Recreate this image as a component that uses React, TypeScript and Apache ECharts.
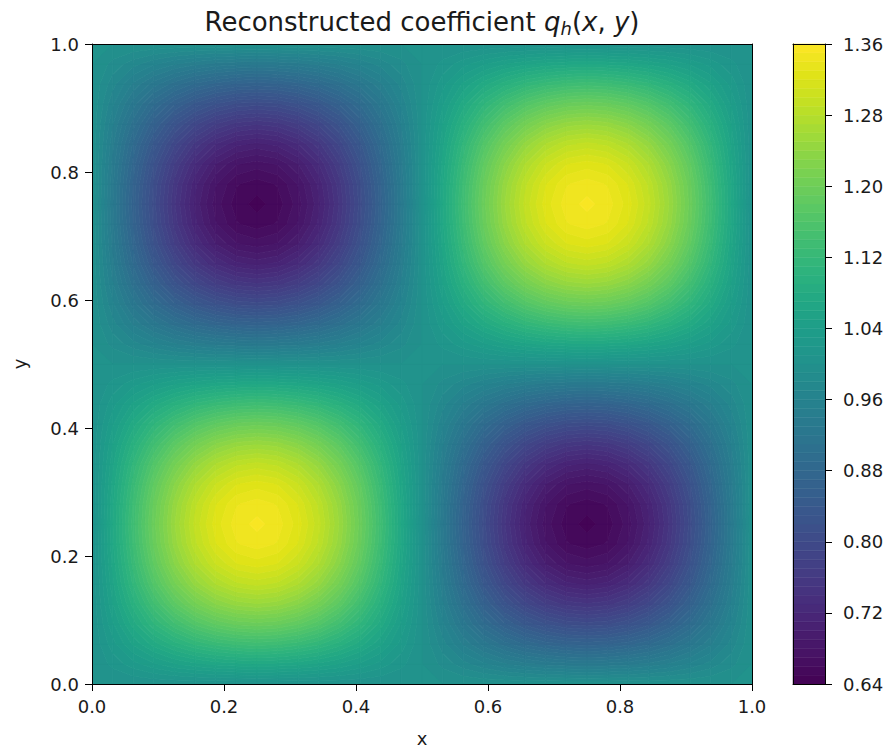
import React, { useEffect, useRef } from "react";
import * as echarts from "echarts";

// Grid nodes (x and y) of the reconstructed field, spacing 1/32
const xNodes = [
  0, 0.03125, 0.0625, 0.09375, 0.125, 0.15625, 0.1875, 0.21875, 0.25, 0.28125, 0.3125, 0.34375, 0.375,
  0.40625, 0.4375, 0.46875, 0.5, 0.53125, 0.5625, 0.59375, 0.625, 0.65625, 0.6875, 0.71875, 0.75,
  0.78125, 0.8125, 0.84375, 0.875, 0.90625, 0.9375, 0.96875, 1,
];
const yNodes = [
  0, 0.03125, 0.0625, 0.09375, 0.125, 0.15625, 0.1875, 0.21875, 0.25, 0.28125, 0.3125, 0.34375, 0.375,
  0.40625, 0.4375, 0.46875, 0.5, 0.53125, 0.5625, 0.59375, 0.625, 0.65625, 0.6875, 0.71875, 0.75,
  0.78125, 0.8125, 0.84375, 0.875, 0.90625, 0.9375, 0.96875, 1,
];

// Rows of q_h values at the nodes (one row per y node, values along x)
const rowOnes = [1, 1, 1, 1, 1, 1, 1, 1, 1, 1, 1, 1, 1, 1, 1, 1, 1, 1, 1, 1, 1, 1, 1, 1, 1, 1, 1, 1, 1, 1, 1, 1, 1];
const rowP1 = [1, 1.013, 1.026, 1.038, 1.049, 1.057, 1.063, 1.067, 1.069, 1.067, 1.063, 1.057, 1.049, 1.038, 1.026, 1.013, 1, 0.987, 0.974, 0.962, 0.951, 0.943, 0.937, 0.933, 0.931, 0.933, 0.937, 0.943, 0.951, 0.962, 0.974, 0.987, 1];
const rowP2 = [1, 1.026, 1.052, 1.075, 1.095, 1.112, 1.124, 1.132, 1.135, 1.132, 1.124, 1.112, 1.095, 1.075, 1.052, 1.026, 1, 0.974, 0.948, 0.925, 0.905, 0.888, 0.876, 0.868, 0.865, 0.868, 0.876, 0.888, 0.905, 0.925, 0.948, 0.974, 1];
const rowP3 = [1, 1.038, 1.075, 1.109, 1.138, 1.163, 1.181, 1.192, 1.196, 1.192, 1.181, 1.163, 1.138, 1.109, 1.075, 1.038, 1, 0.962, 0.925, 0.891, 0.862, 0.837, 0.819, 0.808, 0.804, 0.808, 0.819, 0.837, 0.862, 0.891, 0.925, 0.962, 1];
const rowP4 = [1, 1.049, 1.095, 1.138, 1.176, 1.207, 1.23, 1.244, 1.249, 1.244, 1.23, 1.207, 1.176, 1.138, 1.095, 1.049, 1, 0.951, 0.905, 0.862, 0.824, 0.793, 0.77, 0.756, 0.751, 0.756, 0.77, 0.793, 0.824, 0.862, 0.905, 0.951, 1];
const rowP5 = [1, 1.057, 1.112, 1.163, 1.207, 1.243, 1.27, 1.287, 1.293, 1.287, 1.27, 1.243, 1.207, 1.163, 1.112, 1.057, 1, 0.943, 0.888, 0.837, 0.793, 0.757, 0.73, 0.713, 0.707, 0.713, 0.73, 0.757, 0.793, 0.837, 0.888, 0.943, 1];
const rowP6 = [1, 1.063, 1.124, 1.181, 1.23, 1.27, 1.3, 1.319, 1.325, 1.319, 1.3, 1.27, 1.23, 1.181, 1.124, 1.063, 1, 0.937, 0.876, 0.819, 0.77, 0.73, 0.7, 0.681, 0.675, 0.681, 0.7, 0.73, 0.77, 0.819, 0.876, 0.937, 1];
const rowP7 = [1, 1.067, 1.132, 1.192, 1.244, 1.287, 1.319, 1.339, 1.345, 1.339, 1.319, 1.287, 1.244, 1.192, 1.132, 1.067, 1, 0.933, 0.868, 0.808, 0.756, 0.713, 0.681, 0.661, 0.655, 0.661, 0.681, 0.713, 0.756, 0.808, 0.868, 0.933, 1];
const rowP8 = [1, 1.069, 1.135, 1.196, 1.249, 1.293, 1.325, 1.345, 1.353, 1.345, 1.325, 1.293, 1.249, 1.196, 1.135, 1.069, 1, 0.931, 0.865, 0.804, 0.751, 0.707, 0.675, 0.655, 0.646, 0.655, 0.675, 0.707, 0.751, 0.804, 0.865, 0.931, 1];
const rowN1 = [1, 0.987, 0.974, 0.962, 0.951, 0.943, 0.937, 0.933, 0.931, 0.933, 0.937, 0.943, 0.951, 0.962, 0.974, 0.987, 1, 1.013, 1.026, 1.038, 1.049, 1.057, 1.063, 1.067, 1.069, 1.067, 1.063, 1.057, 1.049, 1.038, 1.026, 1.013, 1];
const rowN2 = [1, 0.974, 0.948, 0.925, 0.905, 0.888, 0.876, 0.868, 0.865, 0.868, 0.876, 0.888, 0.905, 0.925, 0.948, 0.974, 1, 1.026, 1.052, 1.075, 1.095, 1.112, 1.124, 1.132, 1.135, 1.132, 1.124, 1.112, 1.095, 1.075, 1.052, 1.026, 1];
const rowN3 = [1, 0.962, 0.925, 0.891, 0.862, 0.837, 0.819, 0.808, 0.804, 0.808, 0.819, 0.837, 0.862, 0.891, 0.925, 0.962, 1, 1.038, 1.075, 1.109, 1.138, 1.163, 1.181, 1.192, 1.196, 1.192, 1.181, 1.163, 1.138, 1.109, 1.075, 1.038, 1];
const rowN4 = [1, 0.951, 0.905, 0.862, 0.824, 0.793, 0.77, 0.756, 0.751, 0.756, 0.77, 0.793, 0.824, 0.862, 0.905, 0.951, 1, 1.049, 1.095, 1.138, 1.176, 1.207, 1.23, 1.244, 1.249, 1.244, 1.23, 1.207, 1.176, 1.138, 1.095, 1.049, 1];
const rowN5 = [1, 0.943, 0.888, 0.837, 0.793, 0.757, 0.73, 0.713, 0.707, 0.713, 0.73, 0.757, 0.793, 0.837, 0.888, 0.943, 1, 1.057, 1.112, 1.163, 1.207, 1.243, 1.27, 1.287, 1.293, 1.287, 1.27, 1.243, 1.207, 1.163, 1.112, 1.057, 1];
const rowN6 = [1, 0.937, 0.876, 0.819, 0.77, 0.73, 0.7, 0.681, 0.675, 0.681, 0.7, 0.73, 0.77, 0.819, 0.876, 0.937, 1, 1.063, 1.124, 1.181, 1.23, 1.27, 1.3, 1.319, 1.325, 1.319, 1.3, 1.27, 1.23, 1.181, 1.124, 1.063, 1];
const rowN7 = [1, 0.933, 0.868, 0.808, 0.756, 0.713, 0.681, 0.661, 0.655, 0.661, 0.681, 0.713, 0.756, 0.808, 0.868, 0.933, 1, 1.067, 1.132, 1.192, 1.244, 1.287, 1.319, 1.339, 1.345, 1.339, 1.319, 1.287, 1.244, 1.192, 1.132, 1.067, 1];
const rowN8 = [1, 0.931, 0.865, 0.804, 0.751, 0.707, 0.675, 0.655, 0.646, 0.655, 0.675, 0.707, 0.751, 0.804, 0.865, 0.931, 1, 1.069, 1.135, 1.196, 1.249, 1.293, 1.325, 1.345, 1.353, 1.345, 1.325, 1.293, 1.249, 1.196, 1.135, 1.069, 1];

const qValues: number[][] = [
  rowOnes, rowP1, rowP2, rowP3, rowP4, rowP5, rowP6, rowP7, rowP8, rowP7, rowP6, rowP5, rowP4, rowP3, rowP2, rowP1,
  rowOnes, rowN1, rowN2, rowN3, rowN4, rowN5, rowN6, rowN7, rowN8, rowN7, rowN6, rowN5, rowN4, rowN3, rowN2, rowN1,
  rowOnes,
];

const axisTicks = [0, 0.2, 0.4, 0.6, 0.8, 1.0];
const colorbarTicks = [0.64, 0.72, 0.8, 0.88, 0.96, 1.04, 1.12, 1.2, 1.28, 1.36];
const levelMin = 0.64;
const levelMax = 1.36;
const levelStep = 0.01;

const VIRIDIS = [
  "#440154", "#471365", "#482475", "#463480", "#414487", "#3b528b", "#355f8d",
  "#2f6c8e", "#2a788e", "#25848e", "#21918c", "#1e9c89", "#22a884", "#2fb47c",
  "#44bf70", "#5ec962", "#7ad151", "#9bd93c", "#bddf26", "#dfe318", "#fde725",
];

function hexToRgb(h: string) {
  return [parseInt(h.slice(1, 3), 16), parseInt(h.slice(3, 5), 16), parseInt(h.slice(5, 7), 16)];
}
function viridis(t: number) {
  const tt = Math.max(0, Math.min(1, t)) * (VIRIDIS.length - 1);
  const i = Math.min(VIRIDIS.length - 2, Math.floor(tt));
  const f = tt - i;
  const a = hexToRgb(VIRIDIS[i]);
  const b = hexToRgb(VIRIDIS[i + 1]);
  const c = a.map((v, k) => Math.round(v + (b[k] - v) * f));
  return `rgb(${c[0]},${c[1]},${c[2]})`;
}

const nLevels = Math.round((levelMax - levelMin) / levelStep);
const levelAt = (k: number) => Math.round((levelMin + k * levelStep) * 1000) / 1000;
const bandColor = (k: number) => viridis((k + 0.5) / nLevels);

type P = { x: number; y: number; v: number };
function clip(poly: P[], level: number, above: boolean): P[] {
  const out: P[] = [];
  const n = poly.length;
  for (let m = 0; m < n; m++) {
    const a = poly[m];
    const b = poly[(m + 1) % n];
    const aIn = above ? a.v >= level : a.v <= level;
    const bIn = above ? b.v >= level : b.v <= level;
    if (aIn) out.push(a);
    if (aIn !== bIn) {
      const t = (level - a.v) / (b.v - a.v);
      out.push({ x: a.x + (b.x - a.x) * t, y: a.y + (b.y - a.y) * t, v: level });
    }
  }
  return out;
}

const cellData: number[][] = [];
for (let j = 0; j < yNodes.length - 1; j++) {
  for (let i = 0; i < xNodes.length - 1; i++) {
    cellData.push([(xNodes[i] + xNodes[i + 1]) / 2, (yNodes[j] + yNodes[j + 1]) / 2, i, j]);
  }
}
const bandData: number[][] = [];
for (let k = 0; k < nLevels; k++) {
  bandData.push([0.5, (levelAt(k) + levelAt(k + 1)) / 2, k]);
}

const FONT = "DejaVu Sans";
const TXT = "#1a1a1a";
const TICK_LEN = 7;

export default function App() {
  const ref = useRef<HTMLDivElement>(null);
  useEffect(() => {
    if (!ref.current) return;
    const chart = echarts.init(ref.current, undefined, { renderer: "svg" });

    const lineOnly = (extra: any) => ({
      type: "value",
      min: 0,
      max: 1,
      axisLine: { show: true, onZero: false, lineStyle: { color: "#000", width: 1 } },
      axisTick: { show: false },
      axisLabel: { show: false },
      splitLine: { show: false },
      z: 10,
      ...extra,
    });

    const option: any = {
      animation: false,
      textStyle: { fontFamily: FONT },
      grid: [
        { left: 92, top: 44, width: 660, height: 640 },
        { left: 793, top: 44, width: 32, height: 640 },
      ],
      xAxis: [
        {
          gridIndex: 0,
          type: "value",
          position: "bottom",
          min: axisTicks[0],
          max: axisTicks[axisTicks.length - 1],
          interval: 0.2,
          axisLine: { show: true, onZero: false, lineStyle: { color: "#000", width: 1 } },
          axisTick: { show: true, inside: false, length: TICK_LEN, lineStyle: { color: "#000" } },
          axisLabel: { fontSize: 18, color: TXT, fontFamily: FONT, margin: 13, formatter: (v: number) => v.toFixed(1) },
          splitLine: { show: false },
          name: "x",
          nameLocation: "middle",
          nameGap: 45,
          nameTextStyle: { fontSize: 18, color: TXT, fontFamily: FONT },
          z: 10,
        },
        lineOnly({ gridIndex: 0, position: "top" }),
        lineOnly({ gridIndex: 1, position: "bottom" }),
        lineOnly({ gridIndex: 1, position: "top" }),
      ],
      yAxis: [
        {
          gridIndex: 0,
          type: "value",
          position: "left",
          min: axisTicks[0],
          max: axisTicks[axisTicks.length - 1],
          interval: 0.2,
          axisLine: { show: true, onZero: false, lineStyle: { color: "#000", width: 1 } },
          axisTick: { show: true, inside: false, length: TICK_LEN, lineStyle: { color: "#000" } },
          axisLabel: { fontSize: 18, color: TXT, fontFamily: FONT, margin: 13, formatter: (v: number) => v.toFixed(1) },
          splitLine: { show: false },
          name: "y",
          nameLocation: "middle",
          nameGap: 64,
          nameRotate: 90,
          nameTextStyle: { fontSize: 18, color: TXT, fontFamily: FONT },
          z: 10,
        },
        lineOnly({ gridIndex: 0, position: "right" }),
        lineOnly({ gridIndex: 1, position: "left", min: levelMin, max: levelMax }),
        {
          gridIndex: 1,
          type: "value",
          position: "right",
          min: colorbarTicks[0],
          max: colorbarTicks[colorbarTicks.length - 1],
          interval: 0.08,
          axisLine: { show: true, onZero: false, lineStyle: { color: "#000", width: 1 } },
          axisTick: { show: true, inside: false, length: TICK_LEN, lineStyle: { color: "#000" } },
          axisLabel: { fontSize: 18, color: TXT, fontFamily: FONT, margin: 18, formatter: (v: number) => v.toFixed(2) },
          splitLine: { show: false },
          z: 10,
        },
      ],
      graphic: [
        {
          type: "text",
          x: 422,
          y: 22,
          z: 20,
          style: {
            text: "{n|Reconstructed coefficient }{i|q}{s|h}{n|(}{i|x}{n|, }{i|y}{n|)}",
            align: "center",
            verticalAlign: "middle",
            fill: TXT,
            rich: {
              n: { fontSize: 26, fontFamily: FONT, lineHeight: 30, fill: TXT },
              i: { fontSize: 26, fontFamily: FONT, fontStyle: "italic", lineHeight: 30, fill: TXT },
              s: { fontSize: 18, fontFamily: FONT, fontStyle: "italic", lineHeight: 18, verticalAlign: "bottom", fill: TXT },
            },
          },
        },
      ],
      series: [
        {
          type: "custom",
          xAxisIndex: 0,
          yAxisIndex: 0,
          clip: true,
          encode: { x: 0, y: 1 },
          data: cellData,
          renderItem: (params: any, api: any) => {
            const i = api.value(2);
            const j = api.value(3);
            const corners: P[] = [
              { x: xNodes[i], y: yNodes[j], v: qValues[j][i] },
              { x: xNodes[i + 1], y: yNodes[j], v: qValues[j][i + 1] },
              { x: xNodes[i + 1], y: yNodes[j + 1], v: qValues[j + 1][i + 1] },
              { x: xNodes[i], y: yNodes[j + 1], v: qValues[j + 1][i] },
            ];
            const vs = corners.map((c) => c.v);
            const vmin = Math.min(...vs);
            const vmax = Math.max(...vs);
            const k0 = Math.max(0, Math.floor((vmin - levelMin) / levelStep + 1e-9) - 1);
            const k1 = Math.min(nLevels - 1, Math.floor((vmax - levelMin) / levelStep + 1e-9));
            const children: any[] = [];
            for (let k = k0; k <= k1; k++) {
              const lo = levelAt(k);
              const hi = levelAt(k + 1);
              const poly = clip(clip(corners, lo, true), hi, false);
              if (poly.length < 3) continue;
              const col = bandColor(k);
              children.push({
                type: "polygon",
                shape: { points: poly.map((p) => api.coord([p.x, p.y])) },
                style: { fill: col, stroke: col, lineWidth: 0.8 },
              });
            }
            return { type: "group", children };
          },
        },
        {
          type: "custom",
          xAxisIndex: 2,
          yAxisIndex: 3,
          encode: { x: 0, y: 1 },
          data: bandData,
          renderItem: (params: any, api: any) => {
            const k = api.value(2);
            const p0 = api.coord([0, levelAt(k + 1)]);
            const p1 = api.coord([1, levelAt(k)]);
            const col = bandColor(k);
            return {
              type: "rect",
              shape: { x: p0[0], y: p0[1], width: p1[0] - p0[0], height: p1[1] - p0[1] },
              style: { fill: col, stroke: col, lineWidth: 0.5 },
            };
          },
        },
      ],
    };
    chart.setOption(option);
    return () => chart.dispose();
  }, []);
  return (
    <div
      ref={ref}
      style={{ position: "fixed", left: 0, top: 0, width: 893, height: 752, background: "#fff" }}
    />
  );
}
